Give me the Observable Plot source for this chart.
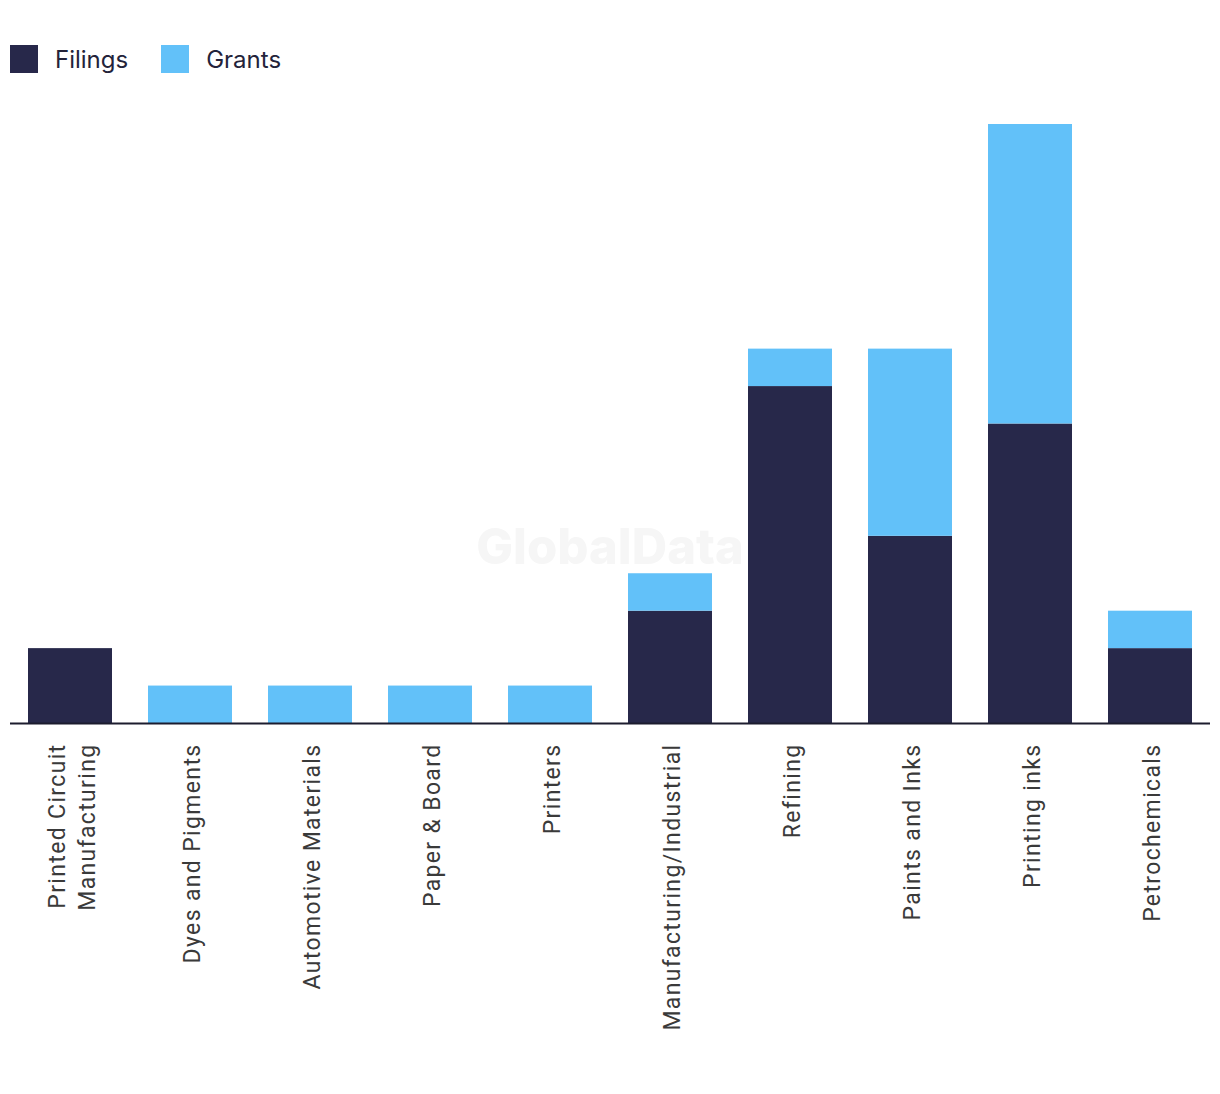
<!DOCTYPE html>
<html>
<head>
<meta charset="utf-8">
<script src="https://cdn.jsdelivr.net/npm/d3@7"></script>
<script src="https://cdn.jsdelivr.net/npm/@observablehq/plot@0.6"></script>
<style>
  html, body { margin: 0; padding: 0; background: #fff; }
  #wrap { position: relative; width: 1220px; height: 1094px; overflow: hidden; }
  #legend { height: 100px; box-sizing: border-box; padding-top: 45px; padding-left: 10px; display: flex; align-items: flex-start; font-family: Inter, "Noto Sans", sans-serif; font-size: 24px; color: #23233a; }
  #legend .item { display: flex; align-items: center; margin-right: 33px; height: 28px; }
  #legend .sw { width: 28px; height: 28px; margin-right: 17px; }
  #watermark { position: absolute; left: 0; width: 1220px; top: 517px; text-align: center; font-family: Inter, "Liberation Sans", sans-serif; font-weight: 800; font-size: 49px; color: #f6f6f6; pointer-events: none; }
  svg { display: block; }
</style>
</head>
<body>
<div id="wrap">
  <div id="legend"></div>
  <div id="watermark">GlobalData</div>
  <div id="chart"></div>
</div>
<script>
const categories = ["Printed Circuit Manufacturing", "Dyes and Pigments", "Automotive Materials", "Paper & Board", "Printers", "Manufacturing/Industrial", "Refining", "Paints and Inks", "Printing inks", "Petrochemicals"];
const tickLabels = ["Printed Circuit\nManufacturing", "Dyes and Pigments", "Automotive Materials", "Paper & Board", "Printers", "Manufacturing/Industrial", "Refining", "Paints and Inks", "Printing inks", "Petrochemicals"];
const seriesNames = ["Filings", "Grants"];
const filings = [2, 0, 0, 0, 0, 3, 9, 5, 8, 2];
const grants = [0, 1, 1, 1, 1, 1, 1, 5, 8, 1];
const colors = ["#27284a", "#62c1f9"];

const rows = [];
categories.forEach((c, i) => {
  rows.push({category: c, series: "Filings", value: filings[i]});
  rows.push({category: c, series: "Grants", value: grants[i]});
});

const legend = document.getElementById("legend");
seriesNames.forEach((s, i) => {
  const it = document.createElement("div");
  it.className = "item";
  it.innerHTML = `<div class="sw" style="background:${colors[i]}"></div><span>${s}</span>`;
  legend.appendChild(it);
});

const labelMap = new Map(categories.map((c, i) => [c, tickLabels[i]]));

const chart = Plot.plot({
  width: 1220,
  height: 994,
  marginTop: 24,
  marginBottom: 371,
  marginLeft: 10,
  marginRight: 10,
  style: {fontFamily: "Roboto, 'Liberation Sans', Arial, sans-serif", fontSize: "23px", letterSpacing: "1.35px", color: "#3a3a3a", background: "transparent"},
  x: {domain: categories, paddingInner: 0.3, paddingOuter: 0.15, label: null},
  y: {domain: [0, 16], axis: null},
  color: {domain: seriesNames, range: colors},
  marks: [
    Plot.barY(rows, {x: "category", y: "value", fill: "series", order: seriesNames}),
    Plot.ruleY([0], {stroke: "#1c1c2e", strokeWidth: 2}),
    Plot.axisX({tickSize: 0, tickPadding: 20, tickRotate: -90, tickFormat: d => labelMap.get(d), fontSize: 23, fill: "#3a3a3a", lineHeight: 1.3})
  ]
});
document.getElementById("chart").appendChild(chart);
</script>
</body>
</html>
